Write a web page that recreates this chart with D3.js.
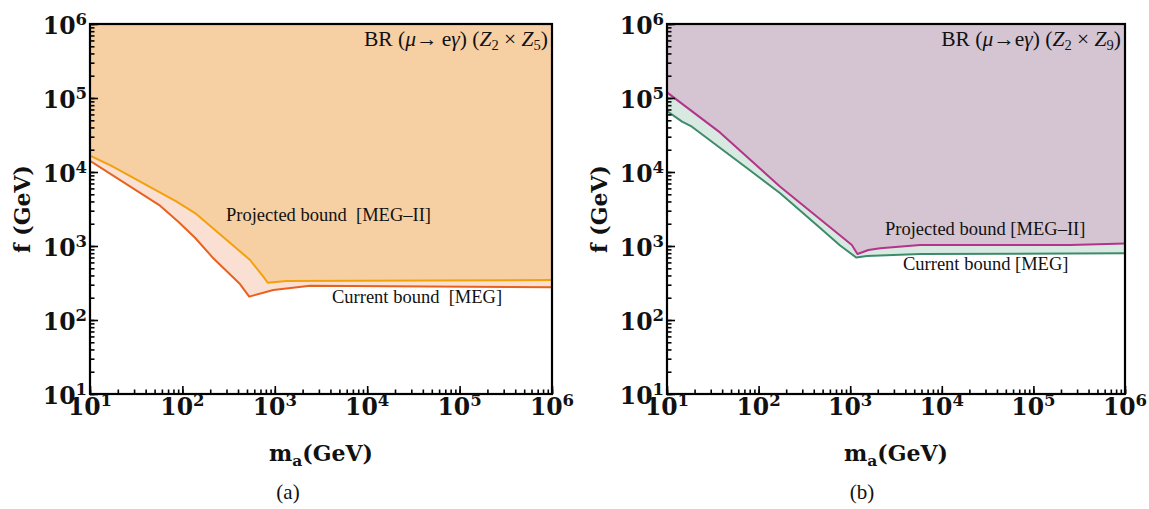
<!DOCTYPE html>
<html>
<head>
<meta charset="utf-8">
<script src="https://cdn.jsdelivr.net/npm/d3@7"></script>
<style>
  html, body { margin: 0; padding: 0; background: #fff; }
  svg { display: block; }
  text { white-space: pre; }
</style>
</head>
<body>
<svg id="chart" width="1149" height="509"></svg>
<script>
// Axion coupling bounds from BR(mu -> e gamma): f versus m_a, two flavour models.

// Panel (a): Z2 x Z5
const massProjA = [10, 16.9, 86.7, 137, 540, 596, 751, 838, 1346, 1e6];
const fProjA    = [16600, 12200, 3970, 2790, 647, 553, 385, 319, 337, 347];
const massCurA  = [10, 57.3, 90.3, 137, 216, 420, 529, 964, 2404, 1e6];
const fCurA     = [14200, 3510, 2130, 1294, 682, 306, 207, 254, 291, 277];

// Panel (b): Z2 x Z9
const massProjB = [10, 38.1, 172, 1042, 1200, 1581, 2123, 5794, 2.5e5, 1e6];
const fProjB    = [119000, 34000, 6330, 1032, 780, 883, 931, 1032, 1032, 1081];
const massCurB  = [10, 14.6, 18.7, 77.6, 172, 470, 776, 1162, 1520, 5794, 1e6];
const fCurB     = [66600, 47900, 40900, 10900, 5150, 1750, 1016, 700, 733, 780, 796];

// Axis ranges and decade ticks
const massDomain = [1e1, 1e6];
const fDomain = [1e1, 1e6];
const decadeExponents = [1, 2, 3, 4, 5, 6];

const panels = [
  {
    x0: 90, x1: 552, caption: "(a)", captionX: 288,
    zOrder: "5",
    proj: { m: massProjA, f: fProjA }, cur: { m: massCurA, f: fCurA },
    fillTop: "#f6cfa3", fillBand: "#fadfd3",
    projColor: "#f4a00c", curColor: "#e8621e",
    projLabel: { text: "Projected bound  [MEG\u2013II]", x: 226, y: 221 },
    curLabel: { text: "Current bound  [MEG]", x: 332, y: 302.5 },
    arrowGap: "\u2009"
  },
  {
    x0: 667, x1: 1125, caption: "(b)", captionX: 862,
    zOrder: "9",
    proj: { m: massProjB, f: fProjB }, cur: { m: massCurB, f: fCurB },
    fillTop: "#d5c5d2", fillBand: "#d8e9e1",
    projColor: "#b5338b", curColor: "#3e8b6c",
    projLabel: { text: "Projected bound [MEG\u2013II]", x: 885, y: 235 },
    curLabel: { text: "Current bound [MEG]", x: 903, y: 270 },
    arrowGap: ""
  }
];

const yTop = 24, yBottom = 394;
const svg = d3.select("#chart");

const serif = "'Liberation Serif', 'Times New Roman', serif";
const boldSerif = "'DejaVu Serif', serif";

function minorTicks() {
  const out = [];
  for (let e = 1; e < 6; e++) {
    for (let k = 1; k <= 9; k++) out.push(k * Math.pow(10, e));
  }
  out.push(1e6);
  return out;
}

panels.forEach((p, idx) => {
  const x = d3.scaleLog().domain(massDomain).range([p.x0, p.x1]);
  const y = d3.scaleLog().domain(fDomain).range([yBottom, yTop]);
  const g = svg.append("g");

  const clipId = "clip" + idx;
  g.append("clipPath").attr("id", clipId)
    .append("rect")
    .attr("x", p.x0).attr("y", yTop)
    .attr("width", p.x1 - p.x0).attr("height", yBottom - yTop);

  const plot = g.append("g").attr("clip-path", `url(#${clipId})`);

  const projPts = p.proj.m.map((m, i) => [m, p.proj.f[i]]);
  const curPts = p.cur.m.map((m, i) => [m, p.cur.f[i]]);

  const areaToTop = d3.area()
    .x(d => x(d[0]))
    .y0(yTop)
    .y1(d => y(d[1]));

  plot.append("path").datum(curPts)
    .attr("d", areaToTop).attr("fill", p.fillBand);
  plot.append("path").datum(projPts)
    .attr("d", areaToTop).attr("fill", p.fillTop);

  const line = d3.line().x(d => x(d[0])).y(d => y(d[1]));
  plot.append("path").datum(curPts)
    .attr("d", line).attr("fill", "none")
    .attr("stroke", p.curColor).attr("stroke-width", 2)
    .attr("stroke-linejoin", "round");
  plot.append("path").datum(projPts)
    .attr("d", line).attr("fill", "none")
    .attr("stroke", p.projColor).attr("stroke-width", 2)
    .attr("stroke-linejoin", "round");

  // Minor ticks (inward)
  const minorX = d3.axisBottom(x).tickValues(minorTicks()).tickSize(-4.5).tickFormat("");
  const minorY = d3.axisLeft(y).tickValues(minorTicks()).tickSize(-4.5).tickFormat("");
  // Major ticks (inward)
  const majorVals = decadeExponents.map(e => Math.pow(10, e));
  const majorX = d3.axisBottom(x).tickValues(majorVals).tickSize(-8).tickFormat("");
  const majorY = d3.axisLeft(y).tickValues(majorVals).tickSize(-8).tickFormat("");

  [minorX, majorX].forEach(ax => {
    const a = g.append("g").attr("transform", `translate(0,${yBottom})`).call(ax);
    a.select(".domain").remove();
    a.selectAll("line").attr("stroke", "#000").attr("stroke-width", 1.6);
  });
  [minorY, majorY].forEach(ax => {
    const a = g.append("g").attr("transform", `translate(${p.x0},0)`).call(ax);
    a.select(".domain").remove();
    a.selectAll("line").attr("stroke", "#000").attr("stroke-width", 1.6);
  });

  // Frame
  g.append("rect")
    .attr("x", p.x0).attr("y", yTop)
    .attr("width", p.x1 - p.x0).attr("height", yBottom - yTop)
    .attr("fill", "none").attr("stroke", "#000").attr("stroke-width", 2.2);

  // Tick labels 10^n
  function powerLabel(sel) {
    sel.append("tspan").text("10");
    sel.append("tspan").attr("dy", -9).attr("font-size", 16.5).text(d => d);
  }
  g.selectAll(".ylab").data(decadeExponents).enter().append("text")
    .attr("class", "ylab")
    .attr("x", p.x0 - 3)
    .attr("y", d => y(Math.pow(10, d)) + 9.5)
    .attr("text-anchor", "end")
    .attr("font-family", boldSerif).attr("font-weight", "bold")
    .attr("font-size", 23.5).attr("fill", "#111")
    .call(powerLabel);
  g.selectAll(".xlab").data(decadeExponents).enter().append("text")
    .attr("class", "xlab")
    .attr("x", d => x(Math.pow(10, d)))
    .attr("y", 415)
    .attr("text-anchor", "middle")
    .attr("font-family", boldSerif).attr("font-weight", "bold")
    .attr("font-size", 23.5).attr("fill", "#111")
    .call(powerLabel);

  // Axis titles
  g.append("text")
    .attr("transform", `translate(${p.x0 - 60},${(yTop + yBottom) / 2}) rotate(-90)`)
    .attr("text-anchor", "middle")
    .attr("font-family", boldSerif).attr("font-weight", "bold")
    .attr("font-size", 22).attr("fill", "#111")
    .text("f (GeV)");

  const xt = g.append("text")
    .attr("x", (p.x0 + p.x1) / 2).attr("y", 461)
    .attr("text-anchor", "middle")
    .attr("font-family", boldSerif).attr("font-weight", "bold")
    .attr("font-size", 22).attr("fill", "#111");
  xt.append("tspan").text("m");
  xt.append("tspan").attr("dy", 5).attr("font-size", 15.5).text("a");
  xt.append("tspan").attr("dy", -5).text("(GeV)");

  // Panel title
  const tt = g.append("text")
    .attr("x", p.x1 - 4).attr("y", 46)
    .attr("text-anchor", "end")
    .attr("font-family", serif).attr("font-size", 21.5).attr("fill", "#111");
  tt.append("tspan").text("BR (");
  tt.append("tspan").attr("font-style", "italic").text("\u03bc");
  tt.append("tspan").text("\u2192" + p.arrowGap + "e");
  tt.append("tspan").attr("font-style", "italic").text("\u03b3");
  tt.append("tspan").text(") (");
  tt.append("tspan").attr("font-style", "italic").text("Z");
  tt.append("tspan").attr("dy", 4).attr("font-size", 14.5).text("2");
  tt.append("tspan").attr("dy", -4).text(" \u00d7 ");
  tt.append("tspan").attr("font-style", "italic").text("Z");
  tt.append("tspan").attr("dy", 4).attr("font-size", 14.5).text(p.zOrder);
  tt.append("tspan").attr("dy", -4).text(")");

  // Curve labels
  [p.projLabel, p.curLabel].forEach(l => {
    g.append("text")
      .attr("x", l.x).attr("y", l.y)
      .attr("font-family", serif).attr("font-size", 18.5).attr("fill", "#111")
      .text(l.text);
  });

  // Sub-figure caption
  g.append("text")
    .attr("x", p.captionX).attr("y", 499)
    .attr("text-anchor", "middle")
    .attr("font-family", serif).attr("font-size", 21).attr("fill", "#111")
    .text(p.caption);
});
</script>
</body>
</html>
